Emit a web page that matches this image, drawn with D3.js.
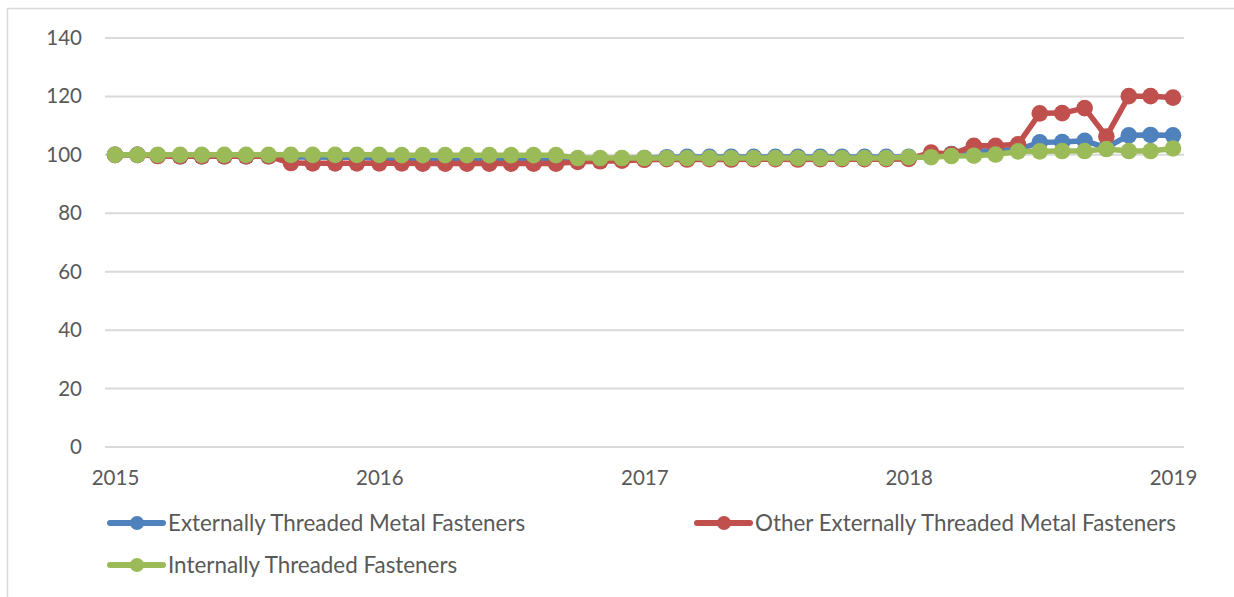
<!DOCTYPE html>
<html>
<head>
<meta charset="utf-8">
<script src="https://cdn.jsdelivr.net/npm/d3@7"></script>
<style>
  html, body { margin: 0; padding: 0; background: #fff; }
  svg { display: block; }
  text { font-family: Lato, "Open Sans", sans-serif; fill: #595959; }
</style>
</head>
<body>
<div id="chart"></div>
<script>
// monthly index values, Jan 2015 .. Jan 2019 (49 points)
const months = d3.timeMonth.range(new Date(2015, 0, 1), new Date(2019, 0, 2));

const externallyThreaded = [
  100, 100, 99.8, 99.5, 99.5, 99.5, 99.5, 99.5, 99.3, 99.3, 99.2, 99.2,
  98.8, 98.7, 98.6, 98.6, 98.5, 98.5, 98.5, 98.5, 98.5, 98.6, 98.6, 98.7,
  98.9, 99.2, 99.3, 99.3, 99.3, 99.3, 99.3, 99.3, 99.3, 99.3, 99.3, 99.3,
  99.3, 99.5, 100.3, 101.2, 101.4, 101.8, 104.3, 104.4, 104.8, 102.5, 106.7, 106.8, 106.7
];
const otherExternallyThreaded = [
  100, 100, 99.6, 99.5, 99.5, 99.5, 99.5, 99.5, 97.2, 97.1, 97.1, 97.1,
  97.1, 97.1, 97.0, 97.0, 97.0, 97.0, 97.0, 97.0, 97.0, 97.6, 97.8, 98.0,
  98.3, 98.5, 98.4, 98.5, 98.4, 98.5, 98.5, 98.4, 98.5, 98.5, 98.5, 98.5,
  98.6, 100.8, 100.2, 103.1, 103.1, 103.6, 114.2, 114.3, 116.0, 106.3, 120.1, 120.1, 119.6
];
const internallyThreaded = [
  100, 100, 100, 100, 100, 100, 100, 100, 100, 100, 100, 100,
  100, 99.9, 99.9, 99.9, 99.9, 99.9, 99.9, 99.9, 99.9, 98.9, 98.9, 98.9,
  98.9, 98.9, 98.9, 98.9, 98.9, 98.9, 98.9, 98.9, 98.9, 98.9, 98.9, 98.9,
  99.2, 99.2, 99.6, 99.7, 100.1, 101.2, 101.2, 101.3, 101.3, 102.0, 101.3, 101.3, 102.2
];

const seriesNames = [
  "Externally Threaded Metal Fasteners",
  "Other Externally Threaded Metal Fasteners",
  "Internally Threaded Fasteners"
];
const seriesColors = ["#4F81BD", "#C0504D", "#9BBB59"];
const yTicks = [0, 20, 40, 60, 80, 100, 120, 140];
const xTickYears = [2015, 2016, 2017, 2018, 2019];

const series = [externallyThreaded, otherExternallyThreaded, internallyThreaded].map((vals, k) => ({
  name: seriesNames[k],
  color: seriesColors[k],
  points: vals.map((v, i) => ({ date: months[i], value: v }))
}));

const width = 1234, height = 597;

const svg = d3.select("#chart").append("svg")
  .attr("width", width)
  .attr("height", height);

// chart frame (cut off at the right and bottom in the picture)
svg.append("rect")
  .attr("x", 7.5).attr("y", 8.5)
  .attr("width", 1400).attr("height", 800)
  .attr("fill", "none")
  .attr("stroke", "#d9d9d9")
  .attr("stroke-width", 1.5);

const x = d3.scaleTime()
  .domain([new Date(2015, 0, 1), new Date(2019, 0, 1)])
  .range([115, 1173]);

const y = d3.scaleLinear()
  .domain([0, 140])
  .range([447, 38]);

// gridlines
svg.append("g")
  .selectAll("line")
  .data(yTicks)
  .join("line")
  .attr("x1", 105).attr("x2", 1184)
  .attr("y1", d => y(d)).attr("y2", d => y(d))
  .attr("stroke", "#d9d9d9")
  .attr("stroke-width", 2);

// y axis labels
const yAxis = svg.append("g")
  .attr("transform", "translate(82,0)")
  .call(d3.axisLeft(y).tickValues(yTicks).tickSize(0).tickPadding(0));
yAxis.select(".domain").remove();
yAxis.selectAll("text")
  .attr("fill", "#595959")
  .style("font-size", "20.5px")
  .style("font-family", "Lato, 'Open Sans', sans-serif");

// x axis labels
const xAxis = svg.append("g")
  .attr("transform", "translate(0,470)")
  .call(d3.axisBottom(x)
    .tickValues(xTickYears.map(yr => new Date(yr, 0, 1)))
    .tickFormat(d3.timeFormat("%Y"))
    .tickSize(0).tickPadding(0));
xAxis.select(".domain").remove();
xAxis.selectAll("text")
  .attr("fill", "#595959")
  .style("font-size", "20.5px")
  .style("font-family", "Lato, 'Open Sans', sans-serif");

// lines + markers
const line = d3.line()
  .x(d => x(d.date))
  .y(d => y(d.value));

const sg = svg.append("g")
  .selectAll("g")
  .data(series)
  .join("g");

sg.append("path")
  .attr("d", d => line(d.points))
  .attr("fill", "none")
  .attr("stroke", d => d.color)
  .attr("stroke-width", 5.5)
  .attr("stroke-linejoin", "round")
  .attr("stroke-linecap", "round");

sg.selectAll("circle")
  .data(d => d.points.map(p => ({ ...p, color: d.color })))
  .join("circle")
  .attr("cx", d => x(d.date))
  .attr("cy", d => y(d.value))
  .attr("r", 8.3)
  .attr("fill", d => d.color);

// legend
const legendPos = [[110, 523], [697, 523], [110, 565]];
const legend = svg.append("g")
  .selectAll("g")
  .data(series)
  .join("g")
  .attr("transform", (d, i) => `translate(${legendPos[i][0]},${legendPos[i][1]})`);

legend.append("line")
  .attr("x1", 0).attr("x2", 53)
  .attr("stroke", d => d.color)
  .attr("stroke-width", 6)
  .attr("stroke-linecap", "round");
legend.append("circle")
  .attr("cx", 27).attr("r", 7)
  .attr("fill", d => d.color);
legend.append("text")
  .attr("x", 58)
  .attr("dy", "0.35em")
  .style("font-size", "22.4px")
  .text(d => d.name);
</script>
</body>
</html>
